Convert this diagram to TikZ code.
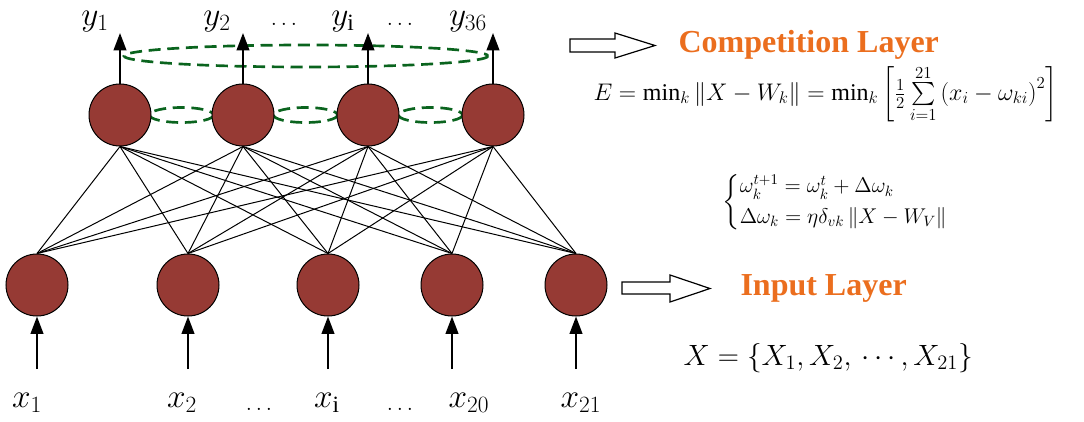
\RequirePackage{fix-cm}
\documentclass[tikz,border=0pt]{standalone}
\usepackage{amsmath}
\usepackage{fontspec}
\setmainfont{Liberation Serif}
\usetikzlibrary{arrows.meta}
\definecolor{nodered}{RGB}{150,58,52}
\definecolor{ringgreen}{RGB}{10,100,30}
\definecolor{layerorange}{RGB}{235,110,30}
\tikzset{every picture/.style={line width=0.75pt}}

\begin{document}
\begin{tikzpicture}[x=0.75pt,y=0.75pt,yscale=-1,xscale=1,
  neuron/.style={circle,draw,fill=nodered,minimum size=46.5pt,inner sep=0pt},
  ring/.style={draw=ringgreen,line width=2pt,dash pattern=on 9pt off 5pt},
  signal/.style={line width=1.4pt,-{Triangle[length=13pt,width=9.5pt]}},
  varlabel/.style={anchor=base,inner sep=0pt,font=\fontsize{25}{30}\selectfont},
  dotlabel/.style={anchor=base,inner sep=0pt,font=\fontsize{17}{21}\selectfont},
  layername/.style={anchor=west,inner sep=0pt,text=layerorange,font=\fontsize{24}{28}\selectfont\bfseries},
  hollow/.style={draw,line width=0.9pt,fill=white}]
	\useasboundingbox (0,0) rectangle (1084,421);

	%Shape: Ellipse [competition ring over the outputs]
	\draw[ring] (306,56) ellipse [x radius=182, y radius=11];
	%Shape: Ellipse [neighbour rings]
	\draw[ring] (181.5,115) ellipse [x radius=32, y radius=7.5];
	\draw[ring] (305.5,115) ellipse [x radius=32, y radius=7.5];
	\draw[ring] (430.5,115) ellipse [x radius=32, y radius=7.5];

	%Shape: Circle [competition layer]
	\node[neuron] (out1) at (120,115) {};
	\node[neuron] (out2) at (243,115) {};
	\node[neuron] (out3) at (368,115) {};
	\node[neuron] (out4) at (493,115) {};
	%Shape: Circle [input layer]
	\node[neuron] (in1) at (37,285) {};
	\node[neuron] (in2) at (188,285) {};
	\node[neuron] (in3) at (328,285) {};
	\node[neuron] (in4) at (452,285) {};
	\node[neuron] (in5) at (576,285) {};

	% weights, every input to every output
	\foreach \i in {1,...,4}
		\foreach \j in {1,...,5}
			\draw (out\i.south) -- (in\j.north);

	% outputs
	\coordinate (ytip1) at (120,33);
	\coordinate (ytip2) at (243,33);
	\coordinate (ytip3) at (368,33);
	\coordinate (ytip4) at (493,33);
	\draw[signal] (out1.north) -- (ytip1);
	\draw[signal] (out2.north) -- (ytip2);
	\draw[signal] (out3.north) -- (ytip3);
	\draw[signal] (out4.north) -- (ytip4);
	% inputs
	\coordinate (xtail1) at (37,369);
	\coordinate (xtail2) at (188,369);
	\coordinate (xtail3) at (328,369);
	\coordinate (xtail4) at (452,369);
	\coordinate (xtail5) at (576,369);
	\draw[signal] (xtail1) -- (in1.south);
	\draw[signal] (xtail2) -- (in2.south);
	\draw[signal] (xtail3) -- (in3.south);
	\draw[signal] (xtail4) -- (in4.south);
	\draw[signal] (xtail5) -- (in5.south);

	% Text Node
	\node[varlabel] (ylab1) at (95,26) {$y_1$};
	\node[varlabel] (ylab2) at (217,26) {$y_2$};
	\node[dotlabel] (ydots1) at (284,25) {$\ldots$};
	\node[varlabel] (ylabi) at (343,26) {$y_{\mathrm{i}}$};
	\node[dotlabel] (ydots2) at (400,25) {$\ldots$};
	\node[varlabel] (ylab36) at (468,26) {$y_{36}$};
	% Text Node
	\node[varlabel] (xlab1) at (27,407) {$x_1$};
	\node[varlabel] (xlab2) at (182,407) {$x_2$};
	\node[dotlabel] (xdots1) at (259,410) {$\ldots$};
	\node[varlabel] (xlabi) at (327,407) {$x_{\mathrm{i}}$};
	\node[dotlabel] (xdots2) at (400,410) {$\ldots$};
	\node[varlabel] (xlab20) at (469,407) {$x_{20}$};
	\node[varlabel] (xlab21) at (581,407) {$x_{21}$};

	%Shape: Right Arrow
	\draw[hollow] (570,39) -- (615,39) -- (615,33) -- (655,45.5) -- (615,58) -- (615,52) -- (570,52) -- cycle;
	\draw[hollow] (622,282) -- (670,282) -- (670,275) -- (710,288.5) -- (670,302) -- (670,294) -- (622,294) -- cycle;

	% Text Node
	\node[layername] (complabel) at (678,45) {Competition Layer};
	\node[layername] (inlabel) at (740,288) {Input Layer};
	% Text Node
	\node[anchor=west,inner sep=0pt] (energy) at (593,94) {\fontsize{18}{22}\selectfont $E=\mathrm{min}_k\left\|X-W_k\right\|=\mathrm{min}_k\left[\tfrac{1}{2}\sum\limits_{i=1}^{21}\left(x_i-\omega_{ki}\right)^2\right]$};
	\node[anchor=west,inner sep=0pt] (update) at (722,202) {\fontsize{16}{19}\selectfont \renewcommand{\arraystretch}{1.6}$\begin{cases}\omega_k^{t+1}=\omega_k^t+\Delta\omega_k\\ \Delta\omega_k=\eta\delta_{vk}\left\|X-W_V\right\|\end{cases}$};
	\node[anchor=west,inner sep=0pt] (inputset) at (683,358) {\fontsize{22}{26}\selectfont $X=\left\{X_1{,}\,X_2{,}\,\cdots{,}\,X_{21}\right\}$};

\end{tikzpicture}
\end{document}
